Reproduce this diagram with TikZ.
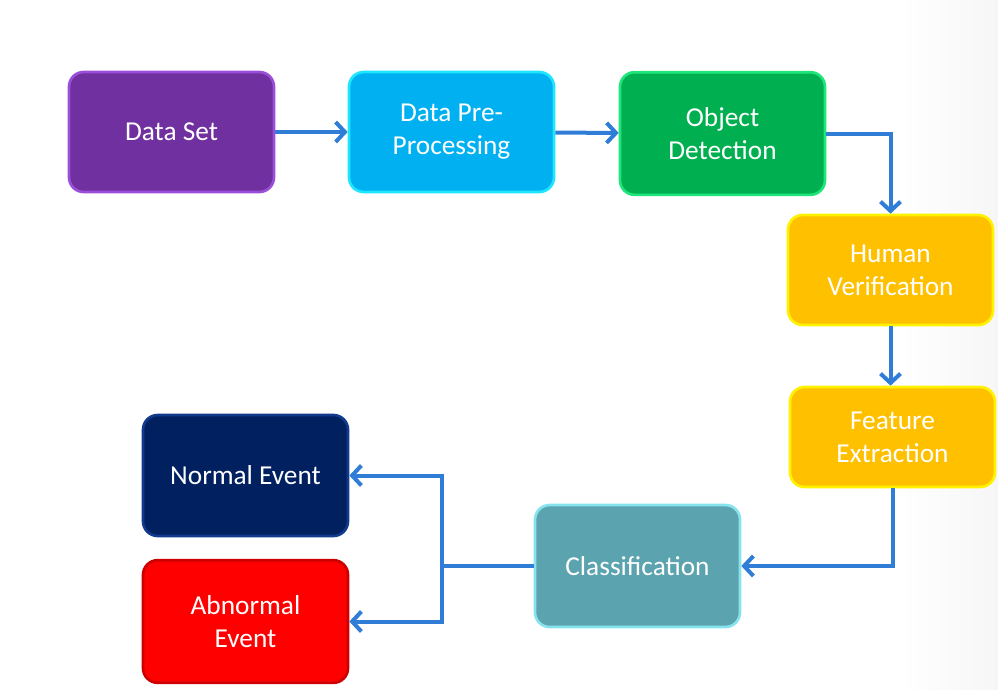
\documentclass[tikz,border=0pt]{standalone}
\usepackage{fontspec}
\setmainfont{Carlito}
\usepackage{xcolor}
\usetikzlibrary{arrows.meta}

\definecolor{setpurple}{HTML}{7030A0}
\definecolor{setpurpleedge}{HTML}{9B4FD8}
\definecolor{prepblue}{HTML}{00B0F0}
\definecolor{prepblueedge}{HTML}{1FE6FF}
\definecolor{detgreen}{HTML}{00B050}
\definecolor{detgreenedge}{HTML}{1FE67A}
\definecolor{verorange}{HTML}{FFC000}
\definecolor{veryellow}{HTML}{FFF200}
\definecolor{clsteal}{HTML}{5BA3AF}
\definecolor{clstealedge}{HTML}{86E3EE}
\definecolor{normnavy}{HTML}{002060}
\definecolor{normnavyedge}{HTML}{123A8C}
\definecolor{abnred}{HTML}{FF0000}
\definecolor{flowblue}{HTML}{2F7DD6}

\tikzset{
    stagebox/.style={rounded corners=11pt, line width=2pt, text=white, align=center,
        font=\fontsize{20.5}{24.75}\selectfont, minimum width=153.75pt, inner sep=0pt},
    flow/.style={flowblue, line width=3pt, -{Straight Barb[length=7pt,width=15pt,line width=3pt]}},
    flowline/.style={flowblue, line width=3pt}
}

\begin{document}
\begin{tikzpicture}[x=0.75pt, y=-0.75pt]
        \useasboundingbox (0,0) rectangle (998,689);
        \shade[left color=white, right color=gray!7] (900,0) rectangle (998,689);
        % top row
        \node[stagebox, fill=setpurple, draw=setpurpleedge, minimum height=90pt] (dataset) at (171.5,132) {Data Set};
        \node[stagebox, fill=prepblue, draw=prepblueedge, minimum height=90pt] (preproc) at (451.5,132) {Data Pre-\\Processing};
        \node[stagebox, fill=detgreen, draw=detgreenedge, minimum height=92pt] (objdet) at (722.5,133.5) {Object\\Detection};
        % right column
        \node[stagebox, fill=verorange, draw=veryellow, minimum height=82.5pt] (human) at (890.5,270) {Human\\Verification};
        \node[stagebox, fill=verorange, draw=veryellow, minimum height=75pt] (feature) at (892.5,437) {Feature\\Extraction};
        % bottom row
        \node[stagebox, fill=clsteal, draw=clstealedge, minimum height=91.5pt] (classif) at (637.5,566) {Classification};
        \node[stagebox, fill=normnavy, draw=normnavyedge, minimum height=90.75pt] (normal) at (245.5,475.5) {Normal Event};
        \node[stagebox, fill=abnred, draw=abnred!80!black, minimum height=92pt] (abnormal) at (245.5,621.5) {Abnormal\\Event};
        \coordinate (split) at (442,566);

        \draw[flow] (dataset) -- (preproc);
        \draw[flow] (preproc) -- (objdet);
        \draw[flow] (objdet.east) -| (human.north);
        \draw[flow] (human.south) -- (human.south |- feature.north);
        \draw[flow] (feature.south) |- (classif.east);
        \draw[flowline] (classif.west) -- (split);
        \draw[flow] (split) |- (normal.east);
        \draw[flow] (split) |- (abnormal.east);
    \end{tikzpicture}
\end{document}
